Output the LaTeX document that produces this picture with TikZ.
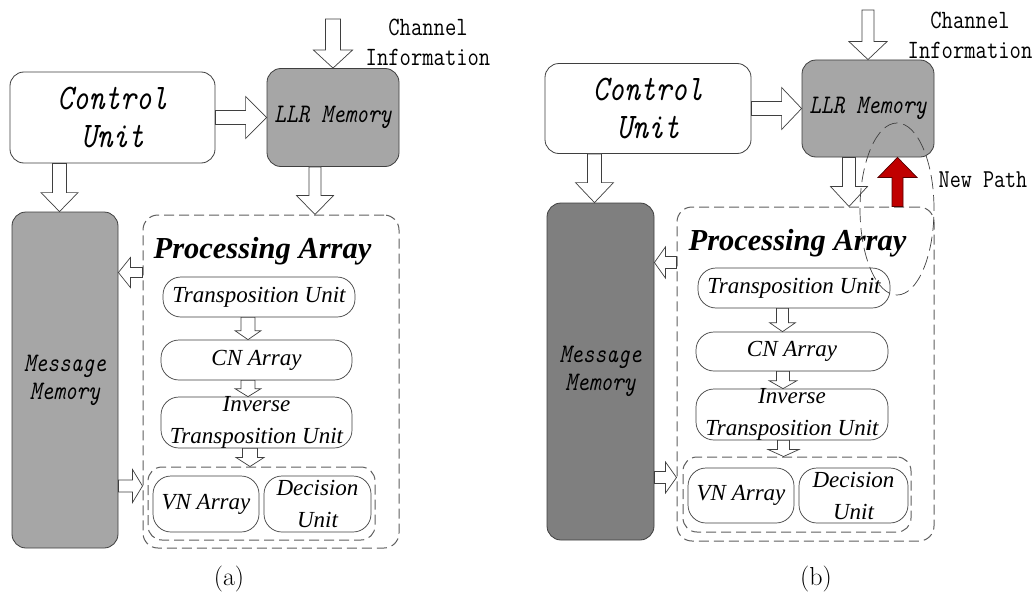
\documentclass[tikz,border=0pt]{standalone}
\usepackage{fontspec}
\usepackage{graphicx}
\usetikzlibrary{calc,shapes.geometric}

\newfontfamily\timesfam{Liberation Serif}
% slightly taller monospaced lettering
\newcommand\tallish[1]{\scalebox{1}[1.2]{#1}}

\definecolor{memgray}{HTML}{A6A6A6}
\definecolor{memdark}{HTML}{7F7F7F}
\definecolor{edgegray}{HTML}{3F3F3F}
\definecolor{dashgray}{HTML}{5E5E5E}
\definecolor{pathred}{HTML}{C00000}

\tikzset{
  % hollow block arrow: {shaft half width}{head half width}{head length}
  barrow/.style n args={3}{to path={
    let \p1=(\tikztostart), \p2=(\tikztotarget),
        \n1={veclen(\x2-\x1,\y2-\y1)}, \n2={atan2(\y2-\y1,\x2-\x1)} in
    {[shift={(\p1)}, rotate=\n2, x=1pt, y=1pt]
     (0,-#1) -- (\n1-#3,-#1) -- (\n1-#3,-#2) -- (\n1,0) -- (\n1-#3,#2)
     -- (\n1-#3,#1) -- (0,#1) -- cycle}}},
  flow/.style={draw=edgegray, fill=white, line width=0.7pt, line join=miter},
  newflow/.style={draw=pathred!45!black, fill=pathred, line width=0.7pt, line join=miter},
  ctrl/.style={draw=edgegray, fill=white, rounded corners=14pt, line width=0.8pt,
    inner sep=0pt, align=center, font={\ttfamily\itshape\fontsize{30}{38}\selectfont}},
  mem/.style={draw=edgegray, fill=memgray, rounded corners=14pt, line width=0.8pt,
    inner sep=0pt, align=center, font={\ttfamily\itshape\fontsize{22.3}{28}\selectfont}},
  pilltext/.style={inner sep=0pt, align=center,
    font={\timesfam\itshape\fontsize{23}{32}\selectfont}},
  pill/.style={pilltext, draw=edgegray, fill=white, rounded corners=18pt, line width=0.7pt},
  groupbox/.style={draw=dashgray, dash pattern=on 10pt off 5pt, line width=1pt,
    rounded corners=15pt, inner sep=0pt},
  grouptitle/.style={inner sep=0pt, anchor=base,
    font={\timesfam\bfseries\itshape\fontsize{30.5}{34}\selectfont}},
  note/.style={inner sep=0pt, align=center, font={\ttfamily\fontsize{22}{30}\selectfont}},
  caption/.style={inner sep=0pt, anchor=base, font={\fontsize{26}{30}\selectfont}},
  halo/.style={draw=edgegray, dash pattern=on 14pt off 6pt, line width=0.7pt,
    ellipse, inner sep=0pt}
}

\begin{document}
\begin{tikzpicture}[x=1pt, y=-1pt]
\path[fill=white] (0,0) rectangle (1035,594);
\useasboundingbox (0,0) rectangle (1035,594);

% ---------------- (a) original architecture ----------------
\node[ctrl, minimum width=205pt, minimum height=91pt] (cuA) at (112.5,117.5)
  {\tallish{Control}\\\tallish{Unit}};
\node[mem, minimum width=132pt, minimum height=98pt] (llrA) at (333,117.5)
  {\tallish{LLR Memory}};
\node[mem, minimum width=106pt, minimum height=336pt] (mmA) at (65,380)
  {\tallish{Message}\\\tallish{Memory}};
\node[groupbox, minimum width=256pt, minimum height=333pt] (paA) at (271,381.5) {};
\node[grouptitle] (ptA) at (262.5,258) {Processing Array};
\node[pill, minimum width=192pt, minimum height=40pt] (tuA) at (259,297) {Transposition Unit};
\node[pill, minimum width=191pt, minimum height=40pt] (cnA) at (256.5,360) {CN Array};
\node[pill, minimum width=191pt, minimum height=51pt,
  label={[pilltext]center:Inverse\\Transposition Unit}] (itA) at (256.5,422.5) {};
\node[groupbox, rounded corners=14pt, minimum width=227pt, minimum height=73pt] (inA) at (261.5,503.5) {};
\node[pill, minimum width=106pt, minimum height=56pt] (vnA) at (206,504) {VN Array};
\node[pill, minimum width=107pt, minimum height=56pt] (duA) at (317.5,504) {Decision\\Unit};
\node[note] (chtA) at (428,42) {\tallish{Channel}\\\tallish{Information}};
\node[caption] (capA) at (229,585) {(a)};

\coordinate (chA) at (333,19);
\coordinate (cmA) at ([xshift=-5.5pt]mmA.north);
\coordinate (lpA) at ([xshift=-18pt]llrA.south);
\coordinate (pmA) at ([yshift=-58pt]paA.north west);
\coordinate (tcA) at ([xshift=-11pt]tuA.south);
\coordinate (ciA) at ([xshift=-8.5pt]cnA.south);
\coordinate (iiA) at ([xshift=-6.5pt]itA.south);
\coordinate (mvA) at ([yshift=-106pt]mmA.east);

\draw[flow] (chA) to[barrow={7.5}{19.5}{18}] (llrA.north);
\draw[flow] (cuA.east) to[barrow={7}{21}{21}] (llrA.west);
\draw[flow] (cmA |- cuA.south) to[barrow={7}{18.5}{19}] (cmA);
\draw[flow] (lpA) to[barrow={6}{18.5}{19}] (lpA |- paA.north);
\draw[flow] (pmA) to[barrow={5}{15}{12}] (pmA -| mmA.east);
\draw[flow] (tcA) to[barrow={7}{13}{9}] (tcA |- cnA.north);
\draw[flow] (ciA) to[barrow={7}{13}{8}] (ciA |- itA.north);
\draw[flow] (iiA) to[barrow={7.5}{14}{9}] (iiA |- inA.north);
\draw[flow] (mvA) to[barrow={6}{16.5}{10}] (mvA -| paA.west);

% ---------------- (b) architecture with the new path ----------------
\node[ctrl, minimum width=206pt, minimum height=90pt] (cuB) at (648,108.5)
  {\tallish{Control}\\\tallish{Unit}};
\node[mem, minimum width=132pt, minimum height=97pt] (llrB) at (868,108.5)
  {\tallish{LLR Memory}};
\node[mem, fill=memdark, minimum width=107pt, minimum height=337pt] (mmB) at (600.5,371.5)
  {\tallish{Message}\\\tallish{Memory}};
\node[groupbox, minimum width=257pt, minimum height=334pt] (paB) at (805.5,374) {};
\node[grouptitle] (ptB) at (797.5,250) {Processing Array};
\node[pill, minimum width=192pt, minimum height=40pt] (tuB) at (794,288) {Transposition Unit};
\node[pill, minimum width=192pt, minimum height=39pt] (cnB) at (792,351.5) {CN Array};
\node[pill, minimum width=192pt, minimum height=51pt,
  label={[pilltext]center:Inverse\\Transposition Unit}] (itB) at (792,414.5) {};
\node[groupbox, rounded corners=14pt, minimum width=228pt, minimum height=75pt] (inB) at (797,494.5) {};
\node[pill, minimum width=106pt, minimum height=55pt] (vnB) at (741,495.5) {VN Array};
\node[pill, minimum width=109pt, minimum height=55pt] (duB) at (853.5,495.5) {Decision\\Unit};
\node[note] (chtB) at (970,35) {\tallish{Channel}\\\tallish{Information}};
\node[note, font={\ttfamily\fontsize{21.5}{26}\selectfont}] (nptB) at (983,180) {\tallish{New Path}};
\node[caption] (capB) at (816,585) {(b)};

\coordinate (chB) at (868,10);
\coordinate (cmB) at ([xshift=-6pt]mmB.north);
\coordinate (lpB) at ([xshift=-19pt]llrB.south);
\coordinate (pmB) at ([yshift=-56pt]paB.north west);
\coordinate (tcB) at ([xshift=-11.5pt]tuB.south);
\coordinate (ciB) at ([xshift=-9pt]cnB.south);
\coordinate (iiB) at ([xshift=-8.5pt]itB.south);
\coordinate (mvB) at ([yshift=-106pt]mmB.east);
\coordinate (rpB) at ([xshift=92pt]paB.north);

\draw[flow] (chB) to[barrow={6}{19}{18}] (llrB.north);
\draw[flow] (cuB.east) to[barrow={7}{21}{20}] (llrB.west);
\draw[flow] (cmB |- cuB.south) to[barrow={7}{19}{20}] (cmB);
\draw[flow] (lpB) to[barrow={6.5}{18.5}{20}] (lpB |- paB.north);
\draw[flow] (pmB) to[barrow={6}{15.5}{11}] (pmB -| mmB.east);
\draw[flow] (tcB) to[barrow={6}{13}{9}] (tcB |- cnB.north);
\draw[flow] (ciB) to[barrow={6.5}{14}{8}] (ciB |- itB.north);
\draw[flow] (iiB) to[barrow={6}{15.5}{7}] (iiB |- inB.north);
\draw[flow] (mvB) to[barrow={6}{15.5}{11}] (mvB -| paB.west);
\draw[newflow] (rpB) to[barrow={5.5}{19.5}{20}] (rpB |- llrB.south);

% dashed outline marking the new path
\node[halo, minimum width=74pt, minimum height=172pt] (npB) at (897,209) {};
\end{tikzpicture}
\end{document}
